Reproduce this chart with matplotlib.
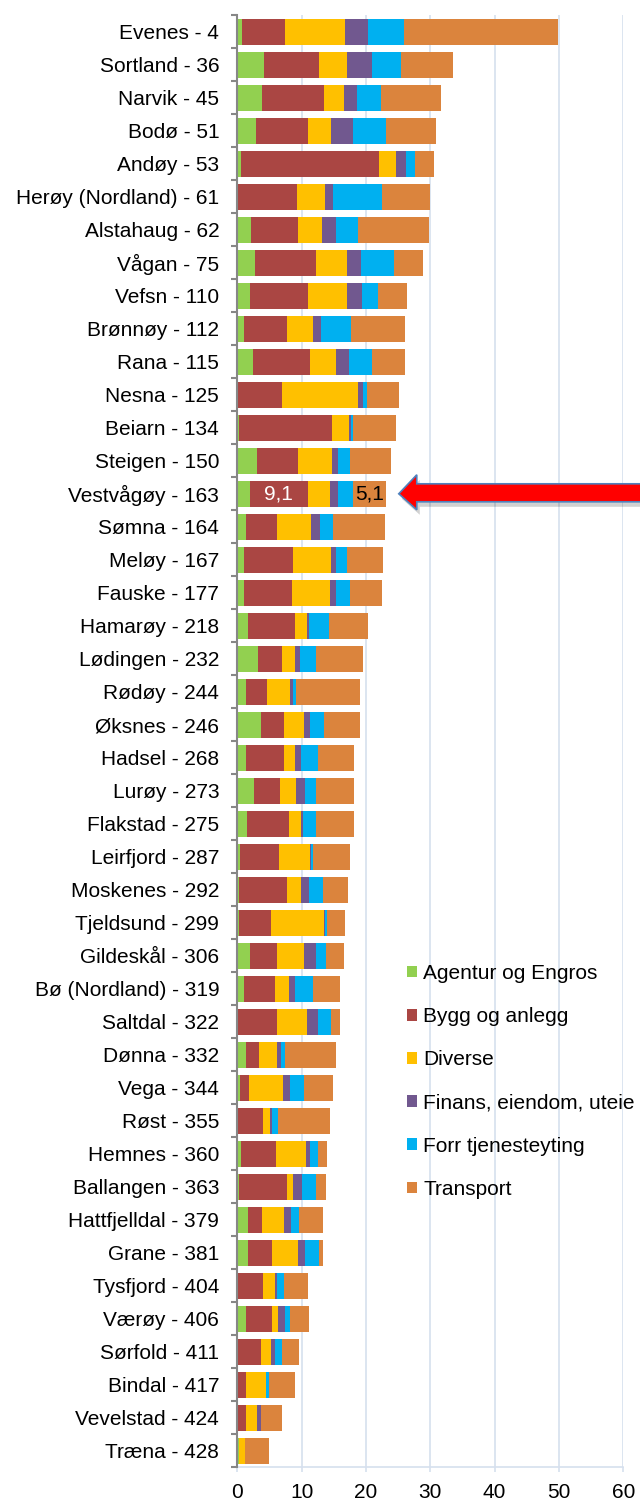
import matplotlib
matplotlib.use('Agg')
import matplotlib.pyplot as plt
import numpy as np
from matplotlib.patches import Patch, Polygon

plt.rcParams['font.family'] = ['Liberation Sans', 'DejaVu Sans']

kommuner = ['Evenes - 4', 'Sortland - 36', 'Narvik - 45', 'Bodø - 51', 'Andøy - 53',
            'Herøy (Nordland) - 61', 'Alstahaug - 62', 'Vågan - 75', 'Vefsn - 110',
            'Brønnøy - 112', 'Rana - 115', 'Nesna - 125', 'Beiarn - 134', 'Steigen - 150',
            'Vestvågøy - 163', 'Sømna - 164', 'Meløy - 167', 'Fauske - 177', 'Hamarøy - 218',
            'Lødingen - 232', 'Rødøy - 244', 'Øksnes - 246', 'Hadsel - 268', 'Lurøy - 273',
            'Flakstad - 275', 'Leirfjord - 287', 'Moskenes - 292', 'Tjeldsund - 299',
            'Gildeskål - 306', 'Bø (Nordland) - 319', 'Saltdal - 322', 'Dønna - 332',
            'Vega - 344', 'Røst - 355', 'Hemnes - 360', 'Ballangen - 363',
            'Hattfjelldal - 379', 'Grane - 381', 'Tysfjord - 404', 'Værøy - 406',
            'Sørfold - 411', 'Bindal - 417', 'Vevelstad - 424', 'Træna - 428']

agentur = [0.8, 4.1, 3.9, 2.9, 0.6, 0.1, 2.2, 2.7, 2.0, 1.0, 2.4, 0.1, 0.2, 3.1,
           1.9, 1.4, 1.1, 1.1, 1.6, 3.2, 1.4, 3.7, 1.3, 2.6, 1.5, 0.4, 0.2, 0.2,
           1.9, 1.1, 0.1, 1.4, 0.4, 0.0, 0.6, 0.3, 1.6, 1.7, 0.0, 1.3, 0.0, 0.0,
           0.0, 0.25]
bygg = [6.6, 8.6, 9.6, 8.1, 21.4, 9.2, 7.3, 9.5, 9.0, 6.7, 8.9, 6.9, 14.5, 6.4,
        9.1, 4.7, 7.5, 7.4, 7.3, 3.8, 3.2, 3.6, 6.0, 4.0, 6.5, 6.1, 7.5, 5.0,
        4.2, 4.7, 6.0, 2.0, 1.4, 4.0, 5.4, 7.4, 2.2, 3.7, 4.0, 4.1, 3.7, 1.3,
        1.3, 0.0]
diverse = [9.3, 4.3, 3.1, 3.6, 2.6, 4.4, 3.6, 4.9, 6.1, 4.1, 4.1, 11.8, 2.6, 5.2,
           3.4, 5.4, 6.0, 5.9, 1.9, 1.9, 3.6, 3.1, 1.6, 2.6, 1.9, 4.8, 2.2, 8.3,
           4.3, 2.3, 4.8, 2.8, 5.3, 1.1, 4.7, 0.9, 3.4, 4.0, 1.8, 1.0, 1.5, 3.1,
           1.7, 1.0]
finans = [3.6, 3.9, 2.0, 3.4, 1.6, 1.2, 2.2, 2.2, 2.3, 1.2, 1.9, 0.7, 0.3, 0.9,
          1.2, 1.3, 0.8, 1.0, 0.4, 0.8, 0.4, 0.9, 1.0, 1.3, 0.3, 0.15, 1.2, 0.1,
          1.8, 0.9, 1.6, 0.6, 1.1, 0.3, 0.6, 1.5, 1.1, 1.1, 0.4, 1.0, 0.6, 0.1,
          0.7, 0.0]
forr = [5.6, 4.5, 3.7, 5.1, 1.4, 7.6, 3.4, 5.1, 2.4, 4.7, 3.6, 0.6, 0.4, 1.9,
        2.4, 2.1, 1.7, 2.1, 3.1, 2.5, 0.5, 2.2, 2.6, 1.7, 2.0, 0.25, 2.2, 0.3,
        1.6, 2.8, 2.0, 0.6, 2.1, 1.0, 1.3, 2.1, 1.3, 2.2, 1.0, 0.8, 1.2, 0.4,
        0.0, 0.0]
transport = [23.9, 8.1, 9.4, 7.8, 2.9, 7.5, 11.1, 4.4, 4.6, 8.3, 5.1, 5.1, 6.6, 6.4,
             5.1, 8.1, 5.6, 5.0, 6.0, 7.4, 10.0, 5.6, 5.7, 5.9, 5.9, 5.8, 3.9, 2.9,
             2.8, 4.1, 1.4, 8.0, 4.6, 8.0, 1.4, 1.6, 3.7, 0.6, 3.8, 2.9, 2.6, 4.1,
             3.3, 3.7]

serier = ['Agentur og Engros', 'Bygg og anlegg', 'Diverse',
          'Finans, eiendom, uteie', 'Forr tjenesteyting', 'Transport']
farger = ['#92d050', '#aa4643', '#ffc000', '#71588f', '#00b0f0', '#db843d']
verdier = [agentur, bygg, diverse, finans, forr, transport]

fs = 15.0

fig = plt.figure(figsize=(6.4, 15), dpi=100)
ax = fig.add_axes([237.3 / 640, 1 - 1467.3 / 1500, 386 / 640, (1467.3 - 15.3) / 1500])

y = np.arange(len(kommuner))
left = np.zeros(len(kommuner))
for navn, farge, v in zip(serier, farger, verdier):
    v = np.array(v)
    ax.barh(y, v, left=left, height=0.77, color=farge, label=navn, zorder=3)
    left += v

# dataetiketter for Vestvågøy
i = kommuner.index('Vestvågøy - 163')
x_bygg = agentur[i] + bygg[i] / 2
ax.text(x_bygg, i, f'{bygg[i]:.1f}'.replace('.', ','), color='white', fontsize=fs,
        ha='center', va='center', zorder=4)
x_tr = left[i] - transport[i] / 2
ax.text(x_tr, i, f'{transport[i]:.1f}'.replace('.', ','), color='black', fontsize=fs,
        ha='center', va='center', zorder=4)

ax.set_xlim(0, 60)
ax.set_ylim(len(kommuner) - 0.5, -0.5)
ax.set_xticks(np.arange(0, 61, 10))
ax.set_yticks(y)
ax.set_yticklabels(kommuner)
ax.set_yticks(np.arange(-0.5, len(kommuner), 1), minor=True)

grid_c = '#d6e0ee'
ax.grid(axis='x', color=grid_c, linewidth=1.2, zorder=0)
for s in ['top', 'right']:
    ax.spines[s].set_visible(False)
ax.spines['bottom'].set_color(grid_c)
ax.spines['bottom'].set_linewidth(1.2)
ax.spines['left'].set_color('#878787')
ax.spines['left'].set_linewidth(1.5)
ax.spines['left'].set_zorder(5)

ax.tick_params(axis='x', length=3.6, width=1.2, color=grid_c, labelsize=fs, pad=8)
ax.tick_params(axis='y', which='major', length=0, labelsize=fs, pad=13)
ax.tick_params(axis='y', which='minor', length=4.3, width=1.5, color='#878787')

handles = [Patch(facecolor=f, edgecolor='none') for f in farger]
ax.legend(handles, serier, loc='upper left', bbox_to_anchor=(407 / 640, 1 - 964 / 1500),
          bbox_transform=fig.transFigure, frameon=False, fontsize=fs,
          handlelength=0.48, handleheight=0.48, handletextpad=0.3, labelspacing=1.16,
          borderpad=0, borderaxespad=0)

# rød pil mot Vestvågøy
tx, ty = ax.transData.transform((left[i] + 2.0, i))
pil = np.array([[0, 0], [18, 16], [18, 8], [260, 8], [260, -10], [18, -10], [18, -19]])
pil[:, 1] = -pil[:, 1]
pts = pil + [tx, ty]
skygge = Polygon(pts + [3, -5], closed=True, facecolor='#000000', alpha=0.18,
                 edgecolor='none', transform=None, zorder=6)
fig.add_artist(skygge)
fig.add_artist(Polygon(pts, closed=True, facecolor='#ff0000', edgecolor='#4f81bd',
                       linewidth=1.2, transform=None, zorder=7))

plt.savefig('out.png', dpi=100)
